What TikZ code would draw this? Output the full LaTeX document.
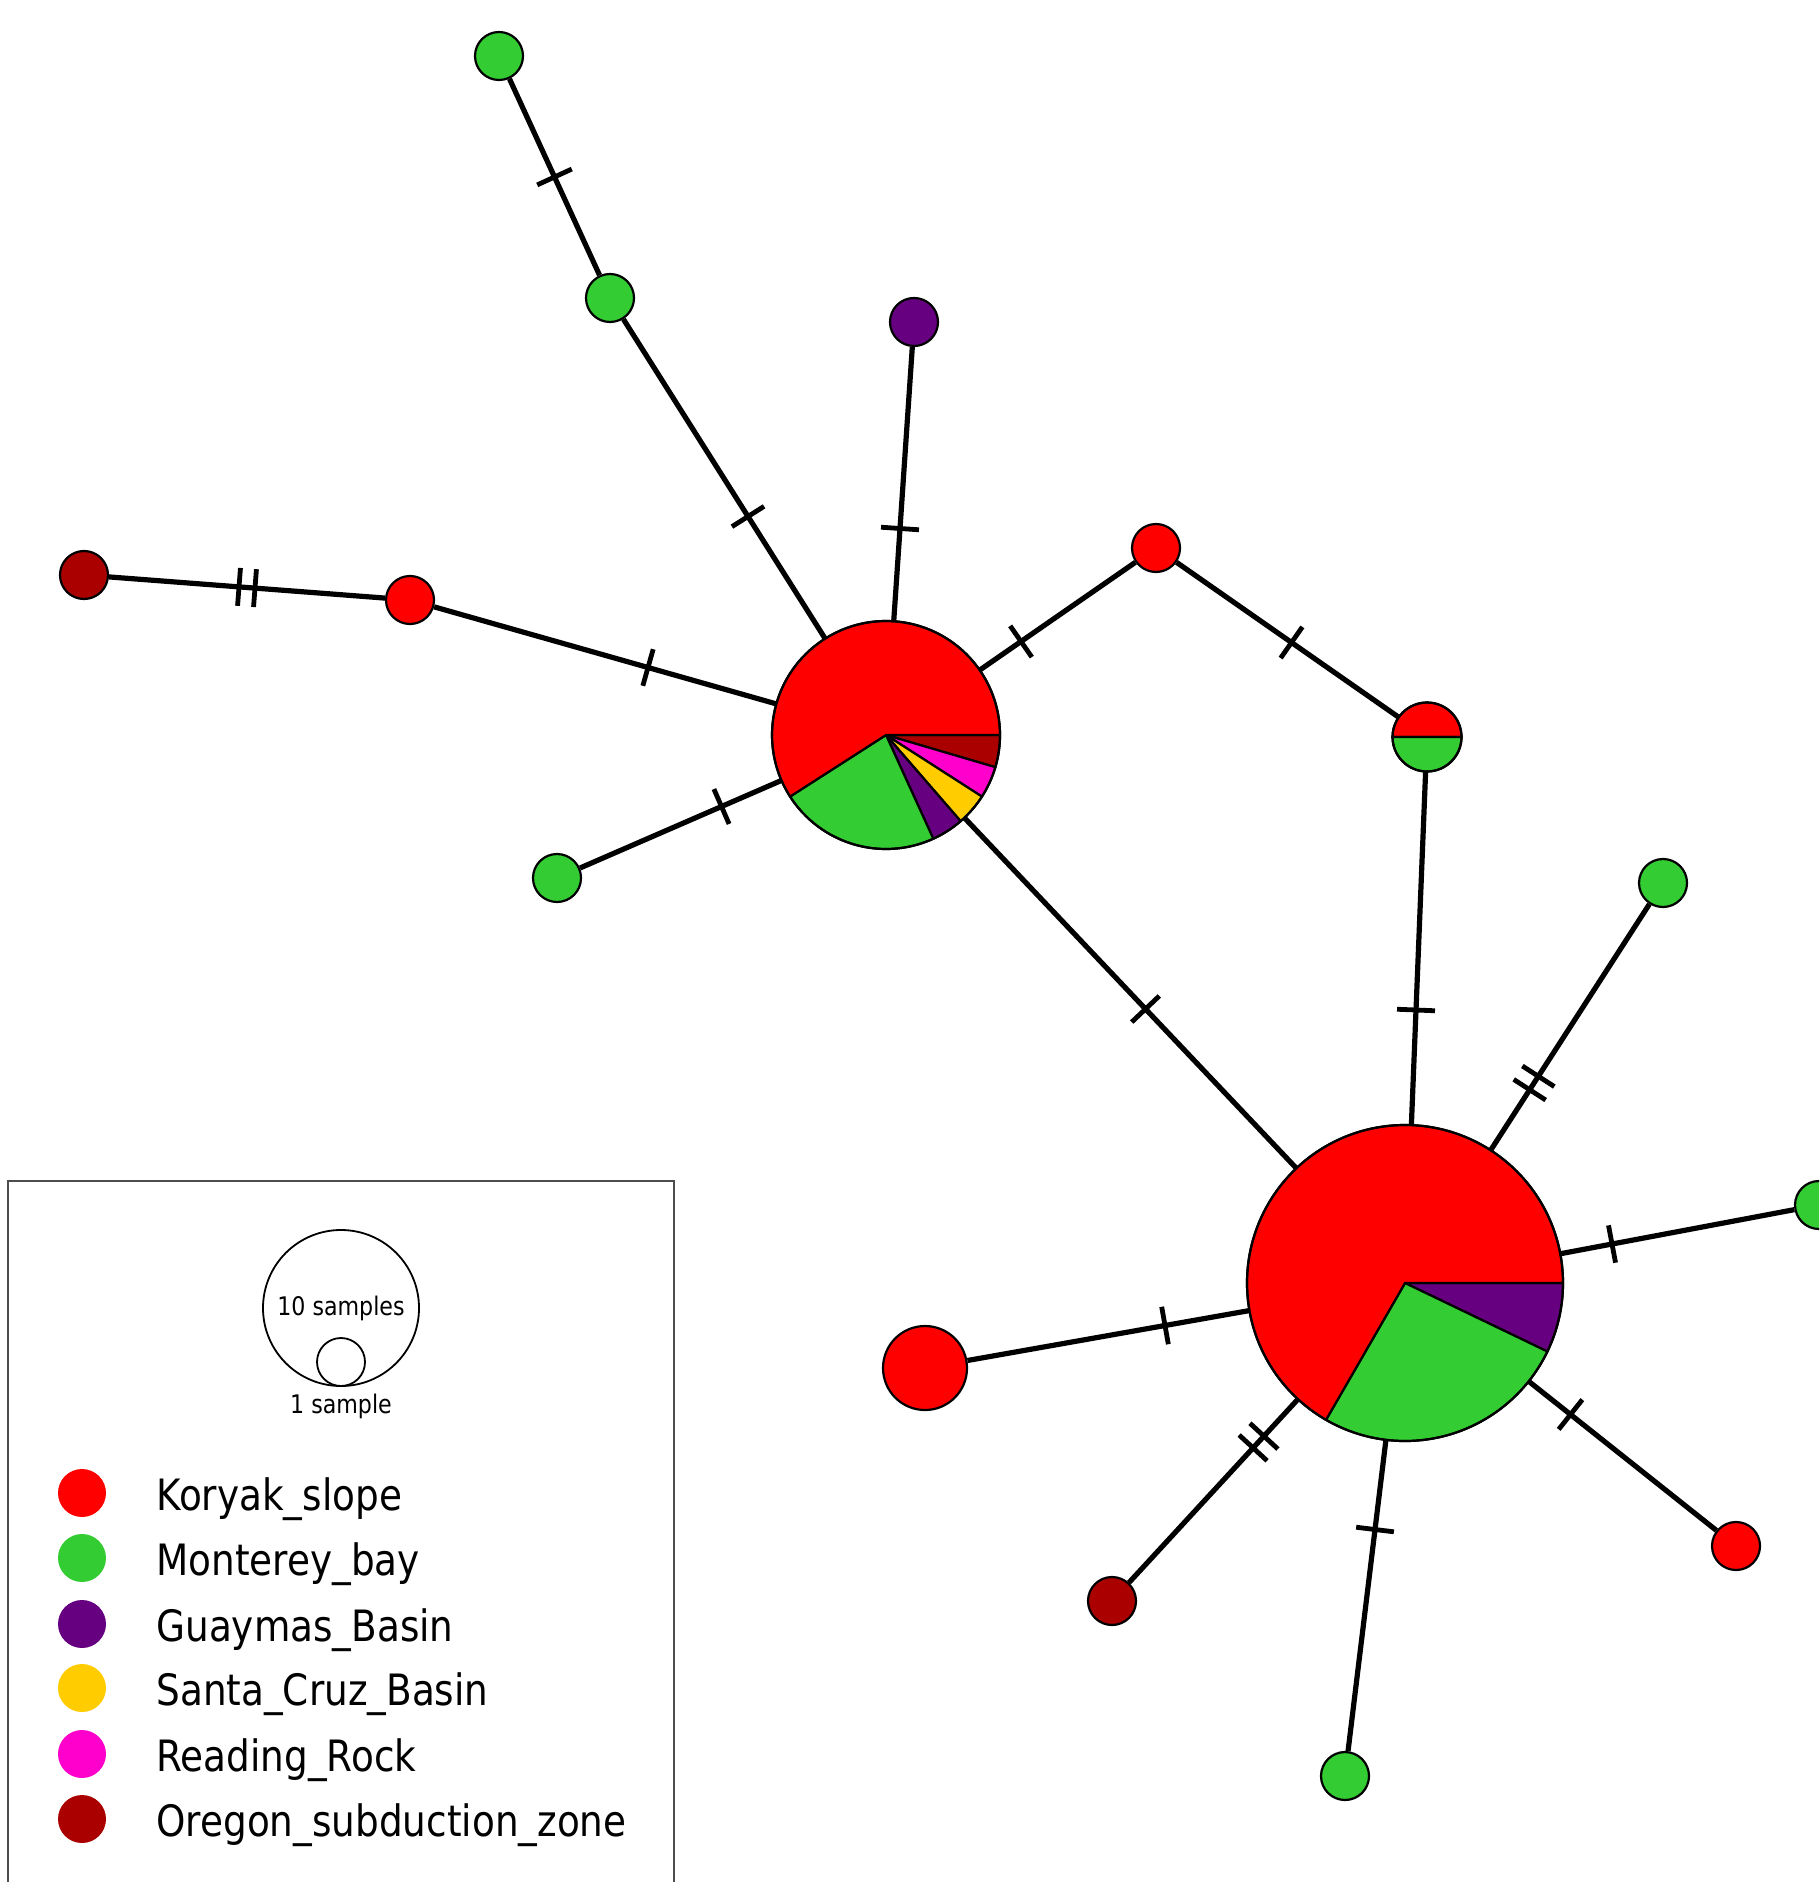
\documentclass[tikz,border=0pt]{standalone}
\usepackage{fontspec}
\setmainfont{DejaVu Sans}
\newfontfamily\legfont[FakeStretch=0.865]{DejaVu Sans}
\definecolor{kor}{HTML}{FF0000}
\definecolor{mon}{HTML}{33CC33}
\definecolor{gua}{HTML}{660080}
\definecolor{san}{HTML}{FFCC00}
\definecolor{rea}{HTML}{FF00CC}
\definecolor{ore}{HTML}{AA0000}
\definecolor{boxgray}{HTML}{4D4D4D}
\newcommand{\wedgeat}[5]{\filldraw[fill=#5, draw=black, line width=1.1pt, line join=round] (#1) -- ++(#3:#2) arc[start angle=#3, end angle=#4, radius=#2] -- cycle;}
\begin{document}
\begin{tikzpicture}[x=0.5pt,y=-0.5pt,
  hap/.style={circle, draw=black, line width=1.1pt, inner sep=0pt, minimum size=24pt},
  pienode/.style={circle, inner sep=0pt},
  edge/.style={line width=2.6pt, black},
  tk/.style={sloped, fill=black, inner sep=0pt, minimum width=2.4pt, minimum height=19pt},
  leg/.style={circle, inner sep=0pt, minimum size=24pt},
  legtext/.style={anchor=base west, font=\legfont\fontsize{21.6}{25}\selectfont, inner sep=0pt},
  small/.style={font=\legfont\fontsize{12.8}{15}\selectfont, inner sep=0pt}
]
\path[use as bounding box] (0,0) rectangle (1819,1882);
\clip (0,0) rectangle (1819,1882);

% haplotype nodes
\node[hap, fill=mon] (g1) at (499,56) {};
\node[hap, fill=mon] (g2) at (610,298) {};
\node[hap, fill=gua] (pu) at (914,322) {};
\node[hap, fill=ore] (dr1) at (84,575) {};
\node[hap, fill=kor] (r1) at (410,600) {};
\node[pienode, minimum size=114pt] (p1) at (886,735) {};
\node[hap, fill=mon] (g3) at (557,878) {};
\node[hap, fill=kor] (r2) at (1156,548) {};
\node[pienode, minimum size=34.5pt] (h) at (1427,737) {};
\node[pienode, minimum size=158pt] (p2) at (1405,1283) {};
\node[hap, fill=mon] (g4) at (1663,883) {};
\node[hap, fill=mon] (g5) at (1819,1205) {};
\node[hap, fill=kor, minimum size=42pt] (r3) at (925,1368) {};
\node[hap, fill=kor] (r4) at (1736,1546) {};
\node[hap, fill=ore] (dr2) at (1112,1601) {};
\node[hap, fill=mon] (g6) at (1345,1776) {};

% edges
\draw[edge] (g1) -- (g2);
\draw[edge] (g2) -- (p1);
\draw[edge] (pu) -- (p1);
\draw[edge] (dr1) -- (r1);
\draw[edge] (r1) -- (p1);
\draw[edge] (p1) -- (g3);
\draw[edge] (p1) -- (r2);
\draw[edge] (r2) -- (h);
\draw[edge] (h) -- (p2);
\draw[edge] (p1) -- (p2);
\draw[edge] (p2) -- (g4);
\draw[edge] (p2) -- (g5);
\draw[edge] (p2) -- (r3);
\draw[edge] (p2) -- (r4);
\draw[edge] (p2) -- (dr2);
\draw[edge] (p2) -- (g6);

% mutation ticks
\path (g1.center) -- (g2.center) node[tk, pos=0.5] {};
\path (g2.center) -- (p1.center) node[tk, pos=0.5] {};
\path (pu.center) -- (p1.center) node[tk, pos=0.5] {};
\path (dr1.center) -- (r1.center) node[tk, pos=0.4755] {} node[tk, pos=0.5245] {};
\path (r1.center) -- (p1.center) node[tk, pos=0.5] {};
\path (p1.center) -- (g3.center) node[tk, pos=0.5] {};
\path (p1.center) -- (r2.center) node[tk, pos=0.5] {};
\path (r2.center) -- (h.center) node[tk, pos=0.5] {};
\path (h.center) -- (p2.center) node[tk, pos=0.5] {};
\path (p1.center) -- (p2.center) node[tk, pos=0.5] {};
\path (p2.center) -- (g4.center) node[tk, pos=0.4832] {} node[tk, pos=0.5168] {};
\path (p2.center) -- (g5.center) node[tk, pos=0.5] {};
\path (p2.center) -- (r3.center) node[tk, pos=0.5] {};
\path (p2.center) -- (r4.center) node[tk, pos=0.5] {};
\path (p2.center) -- (dr2.center) node[tk, pos=0.4815] {} node[tk, pos=0.5185] {};
\path (p2.center) -- (g6.center) node[tk, pos=0.5] {};

% pie 1
\wedgeat{p1.center}{114}{0}{16.4}{ore}
\wedgeat{p1.center}{114}{16.4}{32.7}{rea}
\wedgeat{p1.center}{114}{32.7}{49.1}{san}
\wedgeat{p1.center}{114}{49.1}{65.5}{gua}
\wedgeat{p1.center}{114}{65.5}{147.3}{mon}
\wedgeat{p1.center}{114}{147.3}{360}{kor}
\draw[line width=1.1pt] (p1.center) circle[radius=114];

% half node
\wedgeat{h.center}{34.5}{180}{360}{kor}
\wedgeat{h.center}{34.5}{0}{180}{mon}
\draw[line width=1.1pt] (h.center) circle[radius=34.5];

% pie 2
\wedgeat{p2.center}{158}{0}{25.7}{gua}
\wedgeat{p2.center}{158}{25.7}{120}{mon}
\wedgeat{p2.center}{158}{120}{360}{kor}
\draw[line width=1.1pt] (p2.center) circle[radius=158];

% legend
\draw[boxgray, line width=1.1pt] (8,1900) -- (8,1181) -- (674,1181) -- (674,1900);
\node[circle, draw=black, line width=0.9pt, inner sep=0pt, minimum size=78pt] (s10) at (341,1308) {};
\node[circle, draw=black, line width=0.9pt, inner sep=0pt, minimum size=24pt] (s1) at (341,1362) {};
\node[small] (t10) at (341,1308) {10 samples};
\node[small] (t1) at (341,1406) {1 sample};

\node[leg, fill=kor] (l1) at (82,1493) {};
\node[leg, fill=mon] (l2) at (82,1558) {};
\node[leg, fill=gua] (l3) at (82,1624) {};
\node[leg, fill=san] (l4) at (82,1688) {};
\node[leg, fill=rea] (l5) at (82,1754) {};
\node[leg, fill=ore] (l6) at (82,1819) {};
\node[legtext] (k1) at (156,1510) {Koryak\_slope};
\node[legtext] (k2) at (156,1575) {Monterey\_bay};
\node[legtext] (k3) at (156,1641) {Guaymas\_Basin};
\node[legtext] (k4) at (156,1705) {Santa\_Cruz\_Basin};
\node[legtext] (k5) at (156,1771) {Reading\_Rock};
\node[legtext] (k6) at (156,1836) {Oregon\_subduction\_zone};
\end{tikzpicture}
\end{document}
